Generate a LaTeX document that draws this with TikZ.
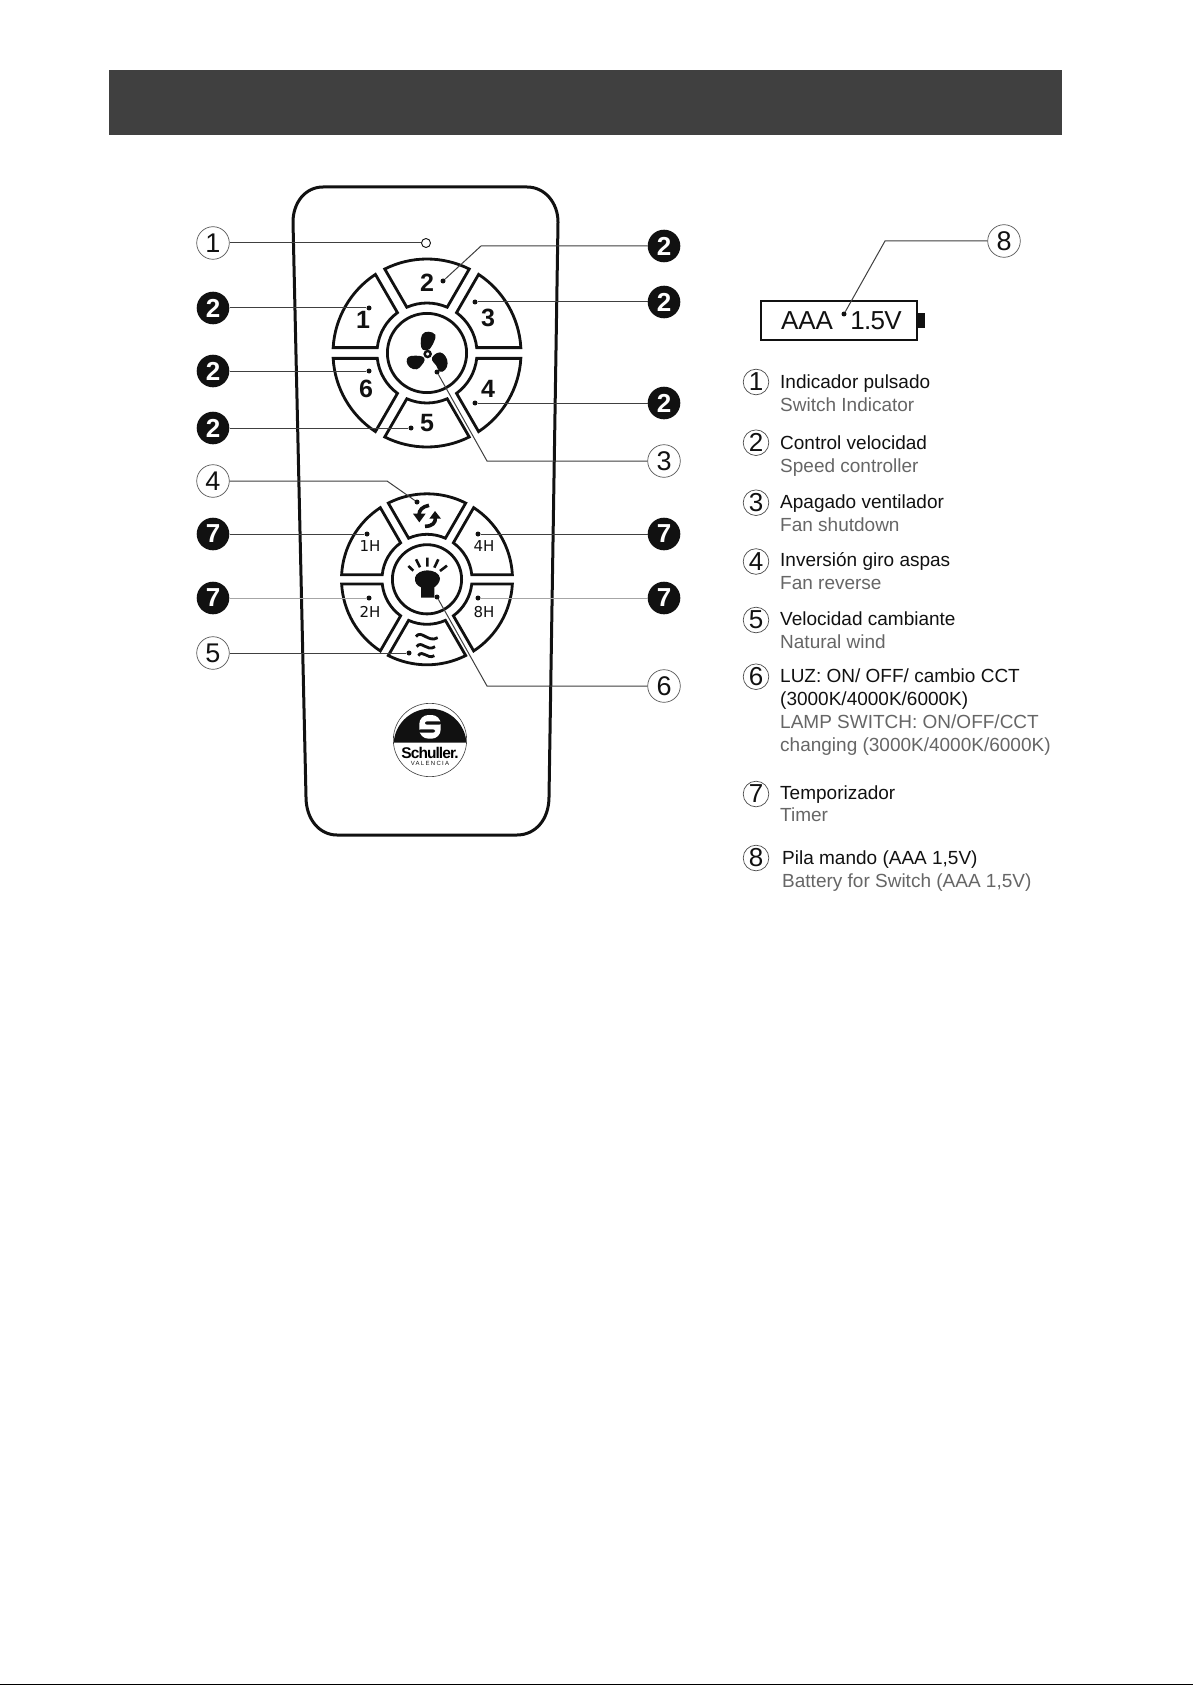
\documentclass[tikz,border=0pt]{standalone}
\usepackage{fontspec}
\setmainfont{Liberation Sans}
\newfontfamily\dvfont{DejaVu Sans}
\newcommand{\fsz}[1]{\fontsize{#1}{#1}\selectfont}
\definecolor{hdr}{HTML}{404040}
\definecolor{sub}{HTML}{666666}
\definecolor{leader}{HTML}{404040}
\definecolor{ink}{HTML}{111111}
\tikzset{
  openbadge/.style={circle,draw=black!65,line width=.7pt,fill=white,inner sep=0pt,minimum size=32.6pt,font=\fsz{27},text=ink},
  fullbadge/.style={circle,fill=ink,inner sep=0pt,minimum size=32.6pt,font=\fsz{26}\bfseries,text=white},
  legbadge/.style={circle,draw=black!70,line width=.7pt,inner sep=0pt,minimum size=25.6pt,font=\fsz{26},text=ink},
  leadline/.style={draw=leader,line width=1pt},
  paledline/.style={draw=black!35,line width=1pt},
  tipdot/.style={circle,fill=ink,inner sep=0pt,minimum size=5pt},
  btn/.style={draw=ink,line width=2.8pt,line join=miter},
  bignum/.style={font=\fsz{25}\bfseries,text=ink,inner sep=0pt},
  hourlab/.style={font=\dvfont\fsz{15},text=ink,inner sep=0pt},
  legmain/.style={anchor=base west,font=\fsz{19},text=ink,inner sep=0pt},
  legsub/.style={anchor=base west,font=\fsz{19},text=sub,inner sep=0pt},
  batlab/.style={font=\fsz{26},text=ink,inner sep=0pt},
}
% centre x, centre y, outer R, inner R, half gap, from angle, to angle
\newcommand{\ringseg}[7]{%
  \pgfmathsetmacro\dOut{asin(#5/#3)}%
  \pgfmathsetmacro\dInn{asin(#5/#4)}%
  \pgfmathsetmacro\aOne{#6+\dOut}\pgfmathsetmacro\aTwo{#7-\dOut}%
  \pgfmathsetmacro\bOne{#7-\dInn}\pgfmathsetmacro\bTwo{#6+\dInn}%
  \draw[btn] ({#1+#3*cos(\aOne)},{#2+#3*sin(\aOne)})
     arc[start angle=\aOne,end angle=\aTwo,radius=#3]
     -- ({#1+#4*cos(\bOne)},{#2+#4*sin(\bOne)})
     arc[start angle=\bOne,end angle=\bTwo,radius=#4] -- cycle;%
}
\begin{document}
\begin{tikzpicture}[x=1pt,y=1pt,yscale=-1]
\useasboundingbox (0,0) rectangle (1193,1685);
\fill[white] (0,0) rectangle (1193,1685);
% header band and bottom edge
\fill[hdr] (109,70) rectangle (1062,135);
\fill[black] (0,1683.6) rectangle (1193,1685);
% remote outline
\draw[ink,line width=3pt] (323,187) -- (527,187)
  .. controls (545,187) and (558,203) .. (558,222)
  -- (549,797) .. controls (549,820) and (535,835) .. (517,835)
  -- (337,835) .. controls (320,835) and (306,820) .. (306,797)
  -- (293,222) .. controls (293,203) and (305,187) .. (323,187) -- cycle;
% upper ring
\foreach \a in {0,60,120,180,240,300}{\ringseg{427}{353}{94}{50}{5.4}{\a}{\a+60}}
\draw[btn] (427,353) circle[radius=39.6];
% lower ring
\foreach \a in {0,60,120,180,240,300}{\ringseg{427}{579.3}{85.5}{45}{4.6}{\a}{\a+60}}
\draw[btn] (427,579.3) circle[radius=34.6];
% digits
\node[bignum] (n2) at (427,283) {2};
\node[bignum] (n1) at (363,319.5) {1};
\node[bignum] (n3) at (488,318) {3};
\node[bignum] (n4) at (488,389) {4};
\node[bignum] (n6) at (366,389) {6};
\node[bignum] (n5) at (427,423) {5};
\node[hourlab] (h1) at (370,546) {1H};
\node[hourlab] (h4) at (484,546) {4H};
\node[hourlab] (h2) at (370,612) {2H};
\node[hourlab] (h8) at (484,612) {8H};
% fan icon
\begin{scope}[shift={(385,315)},scale=.3333]
  \filldraw[ink,line width=1.2pt] plot[smooth cycle,tension=.7] coordinates {(115,103)(109,85)(113,60)(130,52)(149,60)(146,78)(137,95)(133,101)};
  \filldraw[ink,line width=1.2pt] plot[smooth cycle,tension=.7] coordinates {(110,126)(90,124)(72,127)(67,140)(76,156)(95,161)(108,150)(117,135)};
  \filldraw[ink,line width=1.2pt] plot[smooth cycle,tension=.7] coordinates {(148,122)(165,114)(180,125)(186,145)(179,163)(165,168)(155,150)(143,135)};
  \draw[ink,line width=2.4pt] (128,117) circle[radius=9];
\end{scope}
% reverse icon
\begin{scope}[shift={(385,490)},scale=.3333]
  \draw[ink,line width=3.6pt] (132,46) .. controls (112,50) and (102,60) .. (102,75);
  \fill[ink] (84,71) -- (122,71) -- (103,97) -- cycle;
  \draw[ink,line width=3.6pt] (120,109) .. controls (143,109) and (152,97) .. (151,84);
  \fill[ink] (133,86) -- (168,86) -- (150,63) -- cycle;
\end{scope}
% bulb icon
\begin{scope}[shift={(385,545)},scale=.3333]
  \draw[ink,line width=2.6pt] (70,63) -- (85,77) (93,43) -- (105,67) (127,38) -- (127,65) (160,43) -- (148,68) (186,62) -- (165,78);
  \fill[ink] (108,158) -- (108,127) .. controls (95,122) and (88,110) .. (90,98)
    .. controls (92,85) and (110,76) .. (127,76) .. controls (145,76) and (164,85) .. (165,100)
    .. controls (165,112) and (155,122) .. (148,127) -- (148,158) -- cycle;
\end{scope}
% wave icon
\begin{scope}[shift={(385,615)},scale=.3333]
  \draw[ink,line width=2.8pt] (93,65) .. controls (108,42) and (130,85) .. (158,68);
  \draw[ink,line width=2.8pt] (95,95) .. controls (110,74) and (125,112) .. (150,95);
  \draw[ink,line width=2.8pt] (100,122) .. controls (113,102) and (127,135) .. (148,122);
\end{scope}
% logo
\begin{scope}[shift={(385,695)},scale=.3333]
  \fill[ink] (26,143) arc[start angle=184,end angle=356,radius=109.5] -- cycle;
  \draw[black!75,line width=.6pt] (135,135) circle[radius=110];
  \fill[white,rounded corners=9pt] (103,60) rectangle (167,131);
  \fill[ink,rounded corners=2pt] (120,79) rectangle (169,89);
  \fill[ink,rounded corners=2pt] (101,103) rectangle (150,113);
\end{scope}
\node[font=\fsz{15.5}\bfseries\addfontfeature{LetterSpace=-6},text=black,inner sep=0pt] (brand) at (430,752.5) {Schuller.};
\node[font=\fsz{6}\addfontfeature{LetterSpace=22},text=ink,inner sep=0pt] (city) at (430,763) {VALENCIA};
% badges
\node[openbadge] (l1) at (213,243) {1};
\node[fullbadge] (l2a) at (213,308) {2};
\node[fullbadge] (l2b) at (213,371) {2};
\node[fullbadge] (l2c) at (213,428) {2};
\node[openbadge] (l4) at (213,481) {4};
\node[fullbadge] (l7a) at (213,534) {7};
\node[fullbadge] (l7b) at (213,598) {7};
\node[openbadge] (l5) at (213,653) {5};
\node[fullbadge] (r2a) at (664,246) {2};
\node[fullbadge] (r2b) at (664,302) {2};
\node[fullbadge] (r2c) at (664,403) {2};
\node[openbadge] (r3) at (664,461) {3};
\node[fullbadge] (r7a) at (664,534) {7};
\node[fullbadge] (r7b) at (664,598) {7};
\node[openbadge] (r6) at (664,686) {6};
% tips
\node[circle,draw=ink,line width=.9pt,fill=white,inner sep=0pt,minimum size=9pt] (led) at (426,243) {};
\node[tipdot] (t2) at (443,281) {};
\node[tipdot] (t3) at (475,302) {};
\node[tipdot] (t1) at (369,308) {};
\node[tipdot] (t6) at (369,371) {};
\node[tipdot] (t4) at (475,403) {};
\node[tipdot] (t5) at (411,428) {};
\node[tipdot] (tfan) at (437,372) {};
\node[tipdot] (trev) at (417,502) {};
\node[tipdot] (th1) at (367,534) {};
\node[tipdot] (th4) at (478,534) {};
\node[tipdot] (th2) at (369,598) {};
\node[tipdot] (th8) at (478,598) {};
\node[tipdot] (twave) at (409,653) {};
\node[tipdot] (tlamp) at (437,597) {};
\coordinate (e2) at (481,246);
\coordinate (e3) at (487,461);
\coordinate (e4) at (387,481);
\coordinate (e6) at (487,686);
% connectors
\draw[leadline] (l1) -- (led);
\draw[leadline] (l2a) -- (t1);
\draw[leadline] (l2b) -- (t6);
\draw[leadline] (l2c) -- (t5);
\draw[leadline] (r2a) -- (e2) -- (t2);
\draw[leadline] (r2b) -- (t3);
\draw[leadline] (r2c) -- (t4);
\draw[leadline] (r3) -- (e3) -- (tfan);
\draw[leadline] (l4) -- (e4) -- (trev);
\draw[leadline] (l7a) -- (th1);
\draw[leadline] (r7a) -- (th4);
\draw[paledline] (l7b) -- (th2);
\draw[paledline] (r7b) -- (th8);
\draw[leadline] (l5) -- (twave);
\draw[leadline] (r6) -- (e6) -- (tlamp);
% battery
\draw[ink,line width=2.8pt] (761,301) rectangle (917,340);
\fill[ink] (918,313) rectangle (924.5,328);
\node[batlab] (aaa) at (807,321) {AAA};
\node[batlab,font=\fsz{26}\addfontfeature{LetterSpace=-3}] (volt) at (876,321) {1.5V};
\node[tipdot] (tbat) at (844,314) {};
\node[openbadge] (r8) at (1004,241) {8};
\coordinate (e8) at (885,241);
\draw[leadline] (r8) -- (e8) -- (tbat);
% legend
\node[legbadge] (k1) at (756,382) {1};
\node[legmain] (m1) at (780,388.3) {Indicador pulsado};
\node[legsub] (s1) at (780,411) {Switch Indicator};
\node[legbadge] (k2) at (756,442.7) {2};
\node[legmain] (m2) at (780,449) {Control velocidad};
\node[legsub] (s2) at (780,472) {Speed controller};
\node[legbadge] (k3) at (756,502.7) {3};
\node[legmain] (m3) at (780,508.7) {Apagado ventilador};
\node[legsub] (s3) at (780,531.7) {Fan shutdown};
\node[legbadge] (k4) at (756,561.5) {4};
\node[legmain] (m4) at (780,566) {Inversión giro aspas};
\node[legsub] (s4) at (780,589) {Fan reverse};
\node[legbadge] (k5) at (756,620) {5};
\node[legmain] (m5) at (780,625.7) {Velocidad cambiante};
\node[legsub] (s5) at (780,648.7) {Natural wind};
\node[legbadge] (k6) at (756,676.7) {6};
\node[legmain] (m6) at (780,682.3) {LUZ: ON/ OFF/ cambio CCT};
\node[legmain] (m6b) at (780,705) {(3000K/4000K/6000K)};
\node[legsub] (s6) at (780,728) {LAMP SWITCH: ON/OFF/CCT};
\node[legsub] (s6b) at (780,751) {changing (3000K/4000K/6000K)};
\node[legbadge] (k7) at (756,794) {7};
\node[legmain] (m7) at (780,799) {Temporizador};
\node[legsub] (s7) at (780,821.7) {Timer};
\node[legbadge] (k8) at (756,858) {8};
\node[legmain] (m8) at (782,864) {Pila mando (AAA 1,5V)};
\node[legsub] (s8) at (782,887) {Battery for Switch (AAA 1,5V)};
\end{tikzpicture}
\end{document}
